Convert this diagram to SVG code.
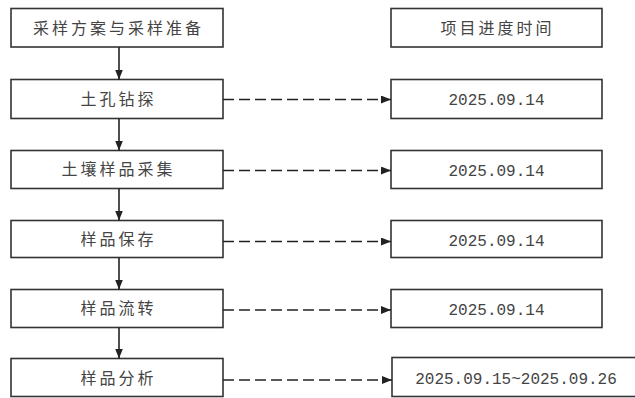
<svg xmlns="http://www.w3.org/2000/svg" width="635" height="398" viewBox="0 0 635 398">
<defs>
<marker id="ah" viewBox="0 0 10 8" refX="10" refY="4" markerWidth="10" markerHeight="8" markerUnits="userSpaceOnUse" orient="auto">
<path d="M0,0 L10,4 L0,8 Z" fill="#222"/>
</marker>
</defs>
<style>
.box{fill:#fff;stroke:#333;stroke-width:1.6}
.cn{font-family:"Noto Sans CJK SC","Noto Sans CJK JP",sans-serif;font-size:16px;fill:#444;text-anchor:middle;letter-spacing:3px}
.num{font-family:"Liberation Mono",monospace;font-size:16px;fill:#444;text-anchor:middle}
.solid{stroke:#222;stroke-width:1.6;fill:none;marker-end:url(#ah)}
.dash{stroke:#222;stroke-width:1.6;fill:none;stroke-dasharray:11 5;marker-end:url(#ah)}
</style>
<rect width="635" height="398" fill="#fff"/>
<g id="n1"><rect class="box" x="11" y="8.5" width="212" height="38.5"/><text class="cn" x="118.5" y="34">采样方案与采样准备</text></g>
<g id="n2"><rect class="box" x="11" y="79.5" width="212" height="39"/><text class="cn" x="118.5" y="105">土孔钻探</text></g>
<g id="n3"><rect class="box" x="11" y="150.5" width="212" height="38"/><text class="cn" x="118.5" y="175">土壤样品采集</text></g>
<g id="n4"><rect class="box" x="11" y="220.5" width="212" height="37"/><text class="cn" x="118.5" y="245">样品保存</text></g>
<g id="n5"><rect class="box" x="11" y="289.5" width="212" height="38"/><text class="cn" x="118.5" y="314">样品流转</text></g>
<g id="n6"><rect class="box" x="11" y="358.5" width="212" height="38"/><text class="cn" x="118.5" y="384">样品分析</text></g>
<g id="t0"><rect class="box" x="391" y="8.5" width="211" height="38.5"/><text class="cn" x="497.5" y="34">项目进度时间</text></g>
<g id="t1"><rect class="box" x="391" y="79.5" width="211" height="39"/><text class="num" x="496.5" y="105">2025.09.14</text></g>
<g id="t2"><rect class="box" x="391" y="150.5" width="211" height="38"/><text class="num" x="496.5" y="176">2025.09.14</text></g>
<g id="t3"><rect class="box" x="391" y="220.5" width="211" height="37"/><text class="num" x="496.5" y="246">2025.09.14</text></g>
<g id="t4"><rect class="box" x="391" y="289.5" width="211" height="38"/><text class="num" x="496.5" y="315">2025.09.14</text></g>
<g id="t5"><rect class="box" x="392" y="357.5" width="245" height="39"/><text class="num" x="516" y="384">2025.09.15~2025.09.26</text></g>
<g id="connectors">
<line class="solid" x1="119" y1="47" x2="119" y2="79.5"/>
<line class="solid" x1="119" y1="118.5" x2="119" y2="150.5"/>
<line class="solid" x1="119" y1="188.5" x2="119" y2="220.5"/>
<line class="solid" x1="119" y1="257.5" x2="119" y2="289.5"/>
<line class="solid" x1="119" y1="327.5" x2="119" y2="358.5"/>
<line class="dash" x1="223" y1="99.5" x2="391" y2="99.5"/>
<line class="dash" x1="223" y1="170.5" x2="391" y2="170.5"/>
<line class="dash" x1="223" y1="241.5" x2="391" y2="241.5"/>
<line class="dash" x1="223" y1="310" x2="391" y2="310"/>
<line class="dash" x1="223" y1="380" x2="392" y2="380"/>
</g>
</svg>
